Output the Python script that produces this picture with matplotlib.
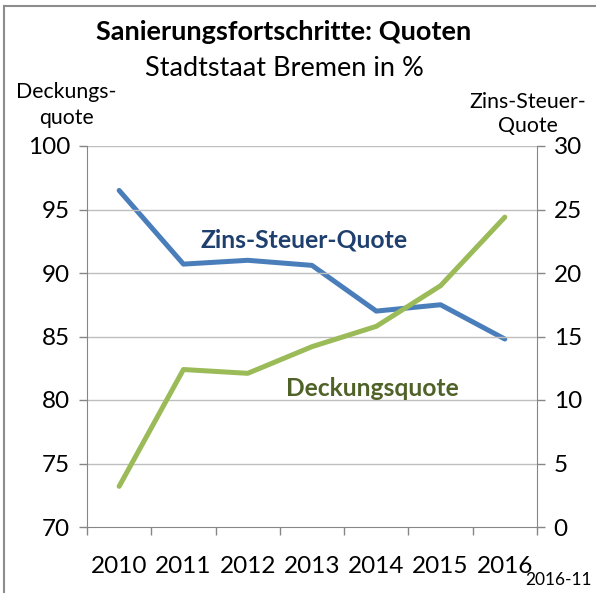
import matplotlib
matplotlib.use("Agg")
import matplotlib.pyplot as plt
from matplotlib.lines import Line2D

years = ["2010", "2011", "2012", "2013", "2014", "2015", "2016"]
deckungsquote = [73.2, 82.4, 82.1, 84.2, 85.8, 89.0, 94.4]
zins_steuer_quote = [26.5, 20.7, 21.0, 20.6, 17.0, 17.5, 14.8]
left_ticks = [70, 75, 80, 85, 90, 95, 100]
right_ticks = [0, 5, 10, 15, 20, 25, 30]

plt.rcParams['font.family'] = ['Lato', 'DejaVu Sans']

fig = plt.figure(figsize=(5.96, 5.93), dpi=100)
ax = fig.add_axes([87/596, 1-527/593, 450/596, 381/593])
ax2 = ax.twinx()

gray = "#868686"
x = list(range(len(years)))
ax.set_xlim(-0.5, len(years)-0.5)
ax.set_ylim(70, 100)
ax2.set_ylim(0, 30)

for yv in left_ticks[1:]:
    ax.axhline(yv, color="#BEBEBE", lw=1.0, zorder=0)

ax2.plot(x, zins_steuer_quote, color="#4A7EBB", lw=3.6, solid_capstyle="round", zorder=3)
ax.plot(x, deckungsquote, color="#9BBB59", lw=3.6, solid_capstyle="round", zorder=3)
ax.set_zorder(ax2.get_zorder()+1)
ax.patch.set_visible(False)

ax.set_yticks(left_ticks)
ax2.set_yticks(right_ticks)
ax.set_xticks(x)
ax.set_xticklabels(years)
ax.set_xticks([i-0.5 for i in range(len(years)+1)], minor=True)
ax.tick_params(axis="x", which="major", length=0, pad=21, labelsize=17.5)
ax.tick_params(axis="x", which="minor", length=6, width=1, color=gray, direction="out")
ax.tick_params(axis="y", length=6, width=1, color=gray, labelsize=17.5, pad=6)
ax2.tick_params(axis="y", length=6, width=1, color=gray, labelsize=17.5, pad=6)

for a in (ax, ax2):
    for s in a.spines.values():
        s.set_visible(False)
ax.spines["left"].set_visible(True)
ax.spines["left"].set_color(gray)
ax.spines["bottom"].set_visible(True)
ax.spines["bottom"].set_color(gray)
ax2.spines["right"].set_visible(True)
ax2.spines["right"].set_color(gray)

fig.text(284/596, 1-32/593, "Sanierungsfortschritte: Quoten", ha="center", va="center",
         fontsize=19.5, fontweight="bold")
fig.text(284/596, 1-68/593, "Stadtstaat Bremen in %", ha="center", va="center", fontsize=19.5)
fig.text(66/596, 1-105/593, "Deckungs-\nquote", ha="center", va="center", fontsize=15.3, linespacing=1.4)
fig.text(528/596, 1-114/593, "Zins-Steuer-\nQuote", ha="center", va="center", fontsize=15.3, linespacing=1.3)
fig.text(592/596, 1-580/593, "2016-11", ha="right", va="center", fontsize=12.5)

fig.text(304/596, 1-240/593, "Zins-Steuer-Quote", ha="center", va="center", fontsize=17.8,
         fontweight="bold", color="#1F3F6E")
fig.text(372/596, 1-388/593, "Deckungsquote", ha="center", va="center", fontsize=17.7,
         fontweight="bold", color="#4F6228")

fig.add_artist(Line2D([4/596, 4/596], [0, 1-6/593], transform=fig.transFigure, color="#8C8C8C", lw=1.5))
fig.add_artist(Line2D([4/596, 1], [1-6/593, 1-6/593], transform=fig.transFigure, color="#8C8C8C", lw=1.5))

fig.savefig("out.png", dpi=100)
